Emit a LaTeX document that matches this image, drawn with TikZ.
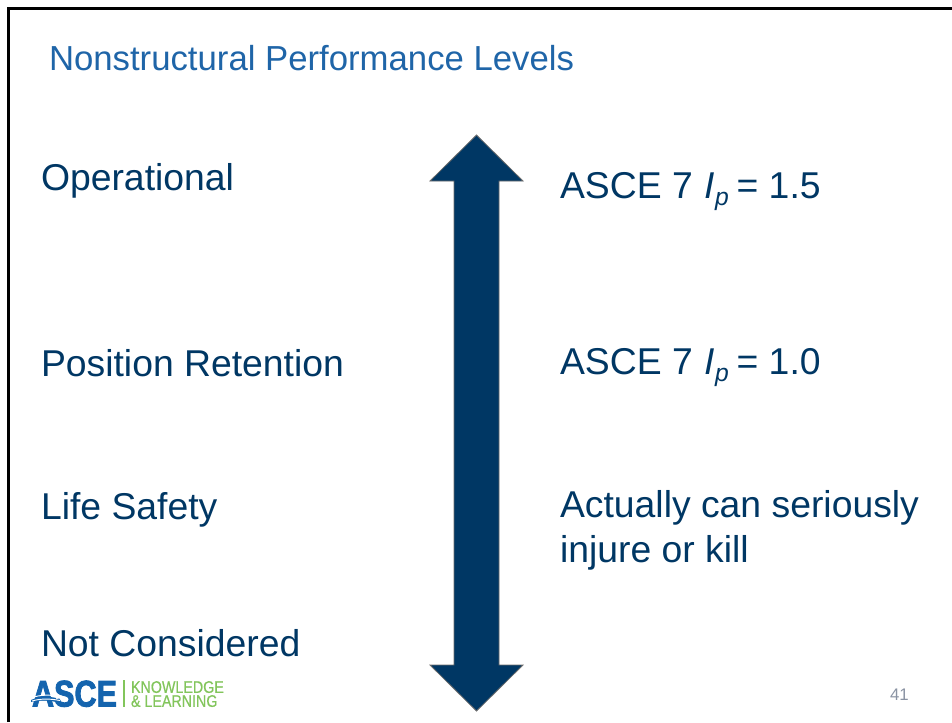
\documentclass[tikz,border=0pt]{standalone}
\usepackage{fontspec}
\setmainfont{Liberation Sans}
\newfontfamily\heavyfont[FakeBold=2.5]{Liberation Sans Bold}
\newfontfamily\semifont[FakeBold=0.5]{Liberation Sans}
\definecolor{titleblue}{HTML}{1F65A8}
\definecolor{navy}{HTML}{003764}
\definecolor{logoblue}{HTML}{1464AE}
\definecolor{logogreen}{HTML}{82C55B}
\definecolor{numgrey}{HTML}{8A93A3}
\newcommand{\subp}{\raisebox{-0.2em}{\fontsize{18.5}{20}\selectfont\textit{p}}}
\newcommand{\logoline}[1]{\scalebox{0.85}[1]{#1}}
\tikzset{
  txt/.style={anchor=base west,inner sep=0pt,outer sep=0pt,text=navy,font=\fontsize{28}{34}\selectfont},
  titletxt/.style={anchor=base west,inner sep=0pt,outer sep=0pt,text=titleblue,font=\fontsize{26.05}{30}\selectfont},
  logotxt/.style={anchor=base west,inner sep=0pt,outer sep=0pt},
  arrowshape/.style={fill=navy,draw=gray!85!black,line width=0.6pt,line join=miter},
  frameline/.style={draw=black,line width=2.4pt}
}
\begin{document}
\begin{tikzpicture}[x=0.75pt,y=-0.75pt]
\useasboundingbox (0,0) rectangle (952,722);
\fill[white] (0,0) rectangle (952,722);
\draw[frameline] (8.5,722) -- (8.5,8.5) -- (952,8.5);
\node[titletxt] (title) at (49,70.5) {Nonstructural Performance Levels};
\node[txt] (op) at (41,190.5) {Operational};
\node[txt] (pr) at (41,376) {Position Retention};
\node[txt] (ls) at (41,519) {Life Safety};
\node[txt] (nc) at (41,656) {Not Considered};
\node[txt] (ip15) at (560,198) {ASCE 7\kern 9pt\textit{I}\subp{}\kern -2pt\ = 1.5};
\node[txt] (ip10) at (560,374) {ASCE 7\kern 9pt\textit{I}\subp{}\kern -2pt\ = 1.0};
\node[txt] (act1) at (560,517) {Actually can seriously};
\node[txt] (act2) at (560,562) {injure or kill};
\draw[arrowshape] (476.5,135) -- (523,181) -- (499,181) -- (499,665) -- (523,665) -- (476.5,711) -- (430,665) -- (454,665) -- (454,181) -- (430,181) -- cycle;
\node[logotxt,text=logoblue] (asce) at (32,706.5) {\scalebox{0.85}[1.03]{\fontsize{27}{29}\heavyfont ASCE}};
\fill[logoblue] (31,700) .. controls (40,696) and (48,696) .. (56,698) -- (56,702) .. controls (48,700) and (40,700) .. (31,702) -- cycle;
\draw[white,line width=0.7pt] (31,698) .. controls (40,694.5) and (50,694.5) .. (60,696.5);
\draw[white,line width=0.7pt] (32,701) .. controls (40,698.5) and (50,698.5) .. (60,700.5);
\fill[logogreen] (123,680) rectangle (124.5,706.5);
\node[anchor=south west,inner sep=0pt,outer sep=0pt,align=left,text=logogreen,font=\fontsize{12.6}{10.5}\semifont] (know) at (131,707) {\logoline{KNOWLEDGE}\\\logoline{\&\ LEARNING}};
\node[logotxt,text=numgrey,font=\fontsize{12.6}{14}\selectfont] (num) at (890,700) {41};
\end{tikzpicture}
\end{document}
